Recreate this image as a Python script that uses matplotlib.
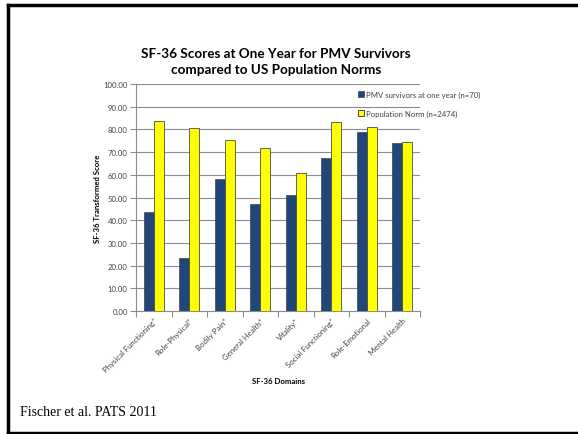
import numpy as np
import matplotlib
matplotlib.use('Agg')
import matplotlib.pyplot as plt
from matplotlib.lines import Line2D

domains = ['Physical Functioning*', 'Role-Physical*', 'Bodily Pain*', 'General Health*',
           'Vitality*', 'Social Functioning*', 'Role-Emotional', 'Mental Health']
pmv = [43.6, 23.4, 58.2, 47.1, 51.2, 67.6, 79.0, 73.8]
norm = [83.9, 80.8, 75.2, 72.0, 60.6, 83.1, 81.2, 74.6]
yticks = [0, 10, 20, 30, 40, 50, 60, 70, 80, 90, 100]

blue = '#1F477A'
yellow = '#FFFF00'
grid_c = '#8C8C8C'
txt_c = '#404040'

plt.rcParams['font.family'] = ['Lato', 'DejaVu Sans']

fig = plt.figure(figsize=(5.78, 4.35), dpi=100)
ax = fig.add_axes([136/578, 1-312/435, 284/578, 227/435])

x = np.arange(len(domains))
w = 0.2857
ax.bar(x - w/2, pmv, w, color=blue, edgecolor='#2b2b2b', linewidth=0.4, zorder=3,
       label='PMV survivors at one year (n=70)')
ax.bar(x + w/2, norm, w, color=yellow, edgecolor='#4a4a4a', linewidth=0.6, zorder=3,
       label='Population Norm (n=2474)')

ax.set_xlim(-0.5, len(domains) - 0.5)
ax.set_ylim(0, 100)
ax.set_yticks(yticks)
ax.set_yticklabels(['%.2f' % v for v in yticks], fontsize=5.6, color=txt_c)
ax.yaxis.grid(True, color=grid_c, linewidth=0.8, zorder=0)
ax.set_axisbelow(True)

# category ticks between groups, labels at centers
ax.set_xticks(np.arange(len(domains) + 1) - 0.5)
ax.set_xticklabels([])
ax.set_xticks(x, minor=True)
ax.set_xticklabels(domains, minor=True, rotation=45, ha='right', rotation_mode='anchor',
                   fontsize=5.6, color=txt_c)
ax.tick_params(axis='x', which='minor', length=0, pad=4)
ax.tick_params(axis='x', which='major', length=4, color=grid_c, direction='out')
ax.tick_params(axis='y', length=4, color=grid_c, direction='out', pad=2)

for s in ['top', 'right']:
    ax.spines[s].set_visible(False)
for s in ['left', 'bottom']:
    ax.spines[s].set_color(grid_c)
    ax.spines[s].set_linewidth(0.8)

fig.text(98/578, 1-199/435, 'SF-36 Transformed Score', rotation=90, ha='center', va='center',
         fontsize=5.6, fontweight='bold', color='black')
fig.text(278/578, 1-382/435, 'SF-36 Domains', ha='center', va='center',
         fontsize=5.6, fontweight='bold', color='black')
fig.text(276/578, 1-62/435, 'SF-36 Scores at One Year for PMV Survivors\ncompared to US Population Norms',
         ha='center', va='center', fontsize=9.7, fontweight='bold', linespacing=1.3)

handles = [Line2D([], [], marker='s', linestyle='none', markersize=4, markerfacecolor=blue,
                  markeredgecolor='#2b2b2b', markeredgewidth=0.4),
           Line2D([], [], marker='s', linestyle='none', markersize=4, markerfacecolor=yellow,
                  markeredgecolor='#2b2b2b', markeredgewidth=0.6)]
fig.legend(handles, ['PMV survivors at one year (n=70)', 'Population Norm (n=2474)'],
           loc='upper left', bbox_to_anchor=(355/578, 1-88/435), frameon=False,
           fontsize=5.6, handlelength=0.6, handletextpad=0.3, labelspacing=1.5,
           borderpad=0, labelcolor=txt_c)

fig.text(20/578, 1-413/435, 'Fischer et al. PATS 2011', ha='left', va='center',
         fontsize=10, family='Liberation Serif')

# slide frame
fig.add_artist(Line2D([8/578, 1], [1-6/435, 1-6/435], color='black', linewidth=2.5,
                      transform=fig.transFigure))
fig.add_artist(Line2D([8/578, 8/578], [1-6/435, 1-434/435], color='black', linewidth=2.5,
                      transform=fig.transFigure))
fig.add_artist(Line2D([8/578, 1], [1-434/435, 1-434/435], color='black', linewidth=2.5,
                      transform=fig.transFigure))

fig.savefig('out.png', dpi=100)
